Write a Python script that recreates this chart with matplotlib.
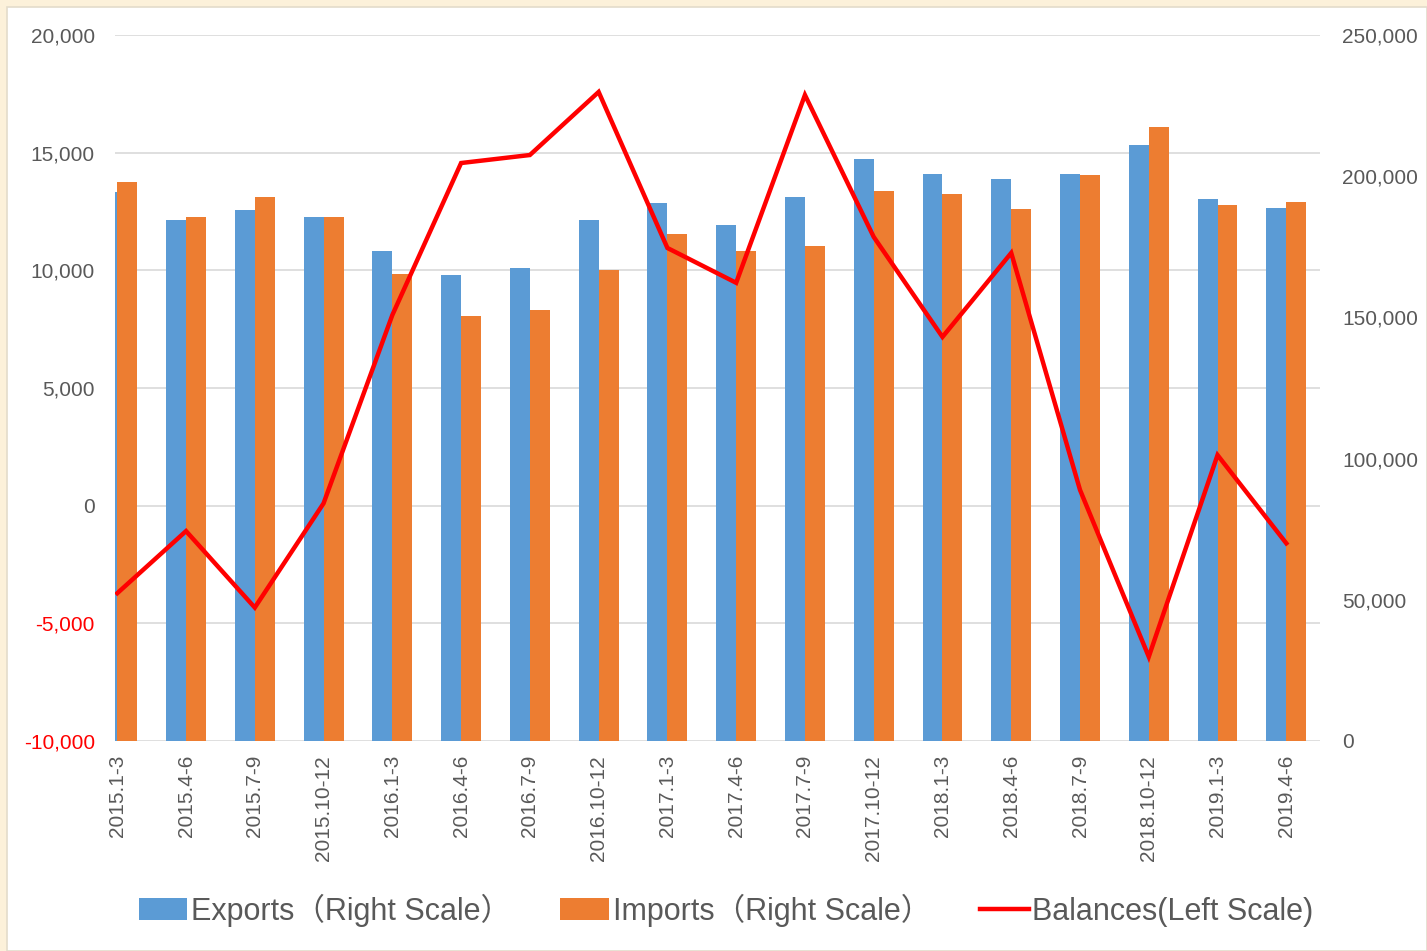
import matplotlib
matplotlib.use("Agg")
import matplotlib.pyplot as plt
import numpy as np
from matplotlib.patches import Rectangle
from matplotlib.ticker import FuncFormatter, MultipleLocator

quarters = ["2015.1-3", "2015.4-6", "2015.7-9", "2015.10-12",
            "2016.1-3", "2016.4-6", "2016.7-9", "2016.10-12",
            "2017.1-3", "2017.4-6", "2017.7-9", "2017.10-12",
            "2018.1-3", "2018.4-6", "2018.7-9", "2018.10-12",
            "2019.1-3", "2019.4-6"]
# right scale
exports = [194500, 184500, 188000, 185400, 173500, 165000, 167500, 184500, 190500,
           182700, 192600, 206100, 200800, 199000, 200800, 210900, 191900, 188800]
imports = [198000, 185400, 192500, 185400, 165500, 150500, 152600, 166800, 179500,
           173500, 175300, 194800, 193700, 188400, 200400, 217500, 189700, 190700]
# left scale
balances = [-3720, -1080, -4330, 100, 8100, 14560, 14900, 17580, 10950,
            9470, 17450, 11420, 7170, 10740, 670, -6420, 2150, -1600]

BLUE = "#5B9BD5"
ORANGE = "#ED7D31"
RED = "#FF0000"
GREY = "#595959"
GRID = "#D9D9D9"

plt.rcParams["font.family"] = ["Liberation Sans", "Noto Sans CJK JP", "DejaVu Sans"]

fig = plt.figure(figsize=(14.27, 9.51), dpi=100, facecolor="#FCF1DA")
fig.patches.append(Rectangle((7 / 1427, 0), 1 - 7 / 1427, 1 - 7 / 951,
                             transform=fig.transFigure, facecolor="white",
                             edgecolor="#E3DCCB", linewidth=1.2, zorder=-5))

pos = [115 / 1427, 1 - 741 / 951, (1320 - 115) / 1427, (741 - 35) / 951]
ax = fig.add_axes(pos)           # grid + left labels
ax2 = ax.twinx()                 # bars, right scale
ax3 = ax.twinx()                 # line, left scale

x = np.arange(len(quarters))
w = 0.29

ax2.bar(x - w / 2, exports, width=w, color=BLUE, label="Exports（Right Scale）", zorder=2)
ax2.bar(x + w / 2, imports, width=w, color=ORANGE, label="Imports（Right Scale）", zorder=2)
ax3.plot(x, balances, color=RED, linewidth=3.2, label="Balances(Left Scale)",
         solid_joinstyle="miter")

for a in (ax, ax2, ax3):
    a.set_xlim(-0.033, 17.49)
    for s in a.spines.values():
        s.set_visible(False)
    a.patch.set_visible(False)

ax.set_ylim(-10000, 20000)
ax3.set_ylim(-10000, 20000)
ax2.set_ylim(0, 250000)

ax.yaxis.set_major_locator(MultipleLocator(5000))
ax2.yaxis.set_major_locator(MultipleLocator(50000))
fmt = FuncFormatter(lambda v, p: f"{int(v):,}")
ax.yaxis.set_major_formatter(fmt)
ax2.yaxis.set_major_formatter(fmt)
ax.grid(axis="y", color=GRID, linewidth=1.2)
ax.set_axisbelow(True)

ax.tick_params(axis="y", length=0, pad=14.5, labelsize=15, labelcolor=GREY)
ax2.tick_params(axis="y", length=0, pad=16, labelsize=15, labelcolor=GREY)
fig.canvas.draw()
for v, lab in zip(ax.get_yticks(), ax.get_yticklabels()):
    if v < 0:
        lab.set_color(RED)

ax.set_xticks(x)
ax.set_xticklabels(quarters, rotation=90, fontsize=15, color=GREY)
ax.tick_params(axis="x", length=0, pad=10)
ax2.tick_params(axis="x", length=0, labelbottom=False)
ax3.tick_params(axis="both", length=0, labelleft=False, labelright=False, labelbottom=False)
ax3.set_yticks([])

h1, l1 = ax2.get_legend_handles_labels()
h3, l3 = ax3.get_legend_handles_labels()
leg = fig.legend(h1 + h3, l1 + l3, loc="center", bbox_to_anchor=(726 / 1427, 1 - 910 / 951),
                 ncol=3, frameon=False, fontsize=22, handlelength=1.6, handleheight=0.75,
                 handletextpad=0.12, columnspacing=1.6)
for t in leg.get_texts():
    t.set_color(GREY)

fig.savefig("out.png", dpi=100, facecolor=fig.get_facecolor())
